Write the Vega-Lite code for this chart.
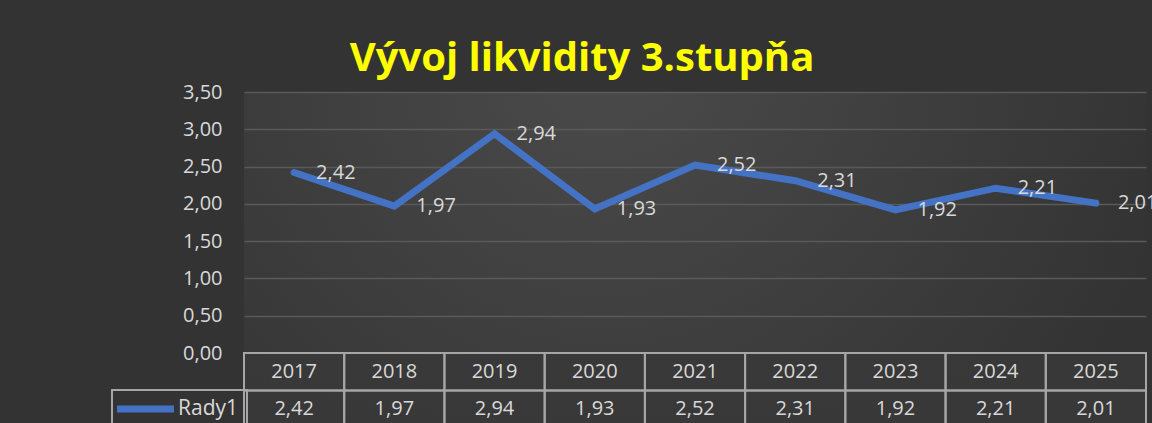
{
  "$schema": "https://vega.github.io/schema/vega-lite/v6.json",
  "background": "#333333",
  "padding": {"left": 111, "top": 38, "right": 0, "bottom": 0},
  "autosize": {"type": "pad"},
  "title": {"text": "Vývoj likvidity 3.stupňa", "font": "Open Sans", "fontSize": 40, "fontWeight": "bold", "color": "#ffff00", "anchor": "middle", "frame": "group", "dx": -113, "dy": 28.5, "offset": 0, "baseline": "alphabetic"},
  "config": {
    "locale": {"number": {"decimal": ",", "thousands": " ", "grouping": [3], "currency": ["", ""]}},
    "view": {"stroke": null},
    "font": "Open Sans",
    "legend": {"strokeWidth": 2}
  },
  "datasets": {
    "d": [
      {"year": "2017", "value": 2.42, "series": "Rady1"},
      {"year": "2018", "value": 1.97, "series": "Rady1"},
      {"year": "2019", "value": 2.94, "series": "Rady1"},
      {"year": "2020", "value": 1.93, "series": "Rady1"},
      {"year": "2021", "value": 2.52, "series": "Rady1"},
      {"year": "2022", "value": 2.31, "series": "Rady1"},
      {"year": "2023", "value": 1.92, "series": "Rady1"},
      {"year": "2024", "value": 2.21, "series": "Rady1"},
      {"year": "2025", "value": 2.01, "series": "Rady1"}
    ]
  },
  "spacing": 0,
  "bounds": "flush",
  "vconcat": [
    {
      "width": 902,
      "height": 261,
      "view": {"stroke": null, "fill": {"gradient": "radial", "x1": 0.4, "y1": 0.3, "r1": 0, "x2": 0.4, "y2": 0.3, "r2": 0.65, "stops": [{"offset": 0, "color": "#4b4b4b"}, {"offset": 1, "color": "#333333"}]}},
      "data": {"name": "d"},
      "encoding": {
        "x": {"field": "year", "type": "ordinal", "scale": {"type": "band", "paddingInner": 0, "paddingOuter": 0}, "axis": null},
        "y": {"field": "value", "type": "quantitative", "scale": {"domain": [0, 3.5], "nice": false},
          "axis": {"values": [0, 0.5, 1, 1.5, 2, 2.5, 3, 3.5], "format": ".2f", "domain": false, "ticks": false, "labelPadding": 22, "labelFontSize": 20, "labelColor": "#d9d9d9", "labelFont": "Open Sans", "gridColor": "#5a5a5a", "gridWidth": 1.5, "title": null}}
      },
      "layer": [
        {
          "mark": {"type": "line", "strokeWidth": 7, "strokeCap": "round"},
          "encoding": {
            "color": {"field": "series", "type": "nominal", "scale": {"range": ["#4472c4"]},
              "legend": {"title": null, "orient": "none", "legendX": -132, "legendY": 298, "symbolType": "M-4,0H4", "symbolSize": 203, "symbolStrokeWidth": 7, "symbolOffset": 14.5, "labelOffset": 21.5, "labelFont": "Open Sans", "labelFontSize": 21, "labelColor": "#d9d9d9", "padding": 8, "strokeColor": "#a6a6a6", "cornerRadius": 0}}
          }
        },
        {
          "mark": {"type": "text", "align": "left", "baseline": "middle", "dx": 22, "fontSize": 20, "color": "#d9d9d9", "font": "Open Sans"},
          "encoding": {"text": {"field": "value", "type": "quantitative", "format": ".2f"}}
        }
      ]
    },
    {
      "width": 902,
      "height": 75,
      "view": {"stroke": null, "fill": {"gradient": "radial", "x1": 0.4, "y1": -1, "r1": 0, "x2": 0.4, "y2": -1, "r2": 2.2, "stops": [{"offset": 0, "color": "#454545"}, {"offset": 1, "color": "#333333"}]}},
      "data": {"name": "d"},
      "encoding": {
        "x": {"field": "year", "type": "ordinal", "scale": {"type": "band", "paddingInner": 0, "paddingOuter": 0}, "axis": null}
      },
      "layer": [
        {
          "mark": {"type": "rect", "fill": "transparent", "stroke": "#a6a6a6", "strokeWidth": 2},
          "encoding": {"y": {"datum": "r1", "type": "nominal", "scale": {"domain": ["r1", "r2"], "type": "band", "paddingInner": 0, "paddingOuter": 0}, "axis": null}}
        },
        {
          "mark": {"type": "rect", "fill": "transparent", "stroke": "#a6a6a6", "strokeWidth": 2},
          "encoding": {"y": {"datum": "r2", "type": "nominal"}}
        },
        {
          "mark": {"type": "text", "fontSize": 20, "color": "#d9d9d9", "font": "Open Sans"},
          "encoding": {"y": {"datum": "r1", "type": "nominal"}, "text": {"field": "year", "type": "nominal"}}
        },
        {
          "mark": {"type": "text", "fontSize": 20, "color": "#d9d9d9", "font": "Open Sans"},
          "encoding": {"y": {"datum": "r2", "type": "nominal"}, "text": {"field": "value", "type": "quantitative", "format": ".2f"}}
        }
      ]
    }
  ]
}
